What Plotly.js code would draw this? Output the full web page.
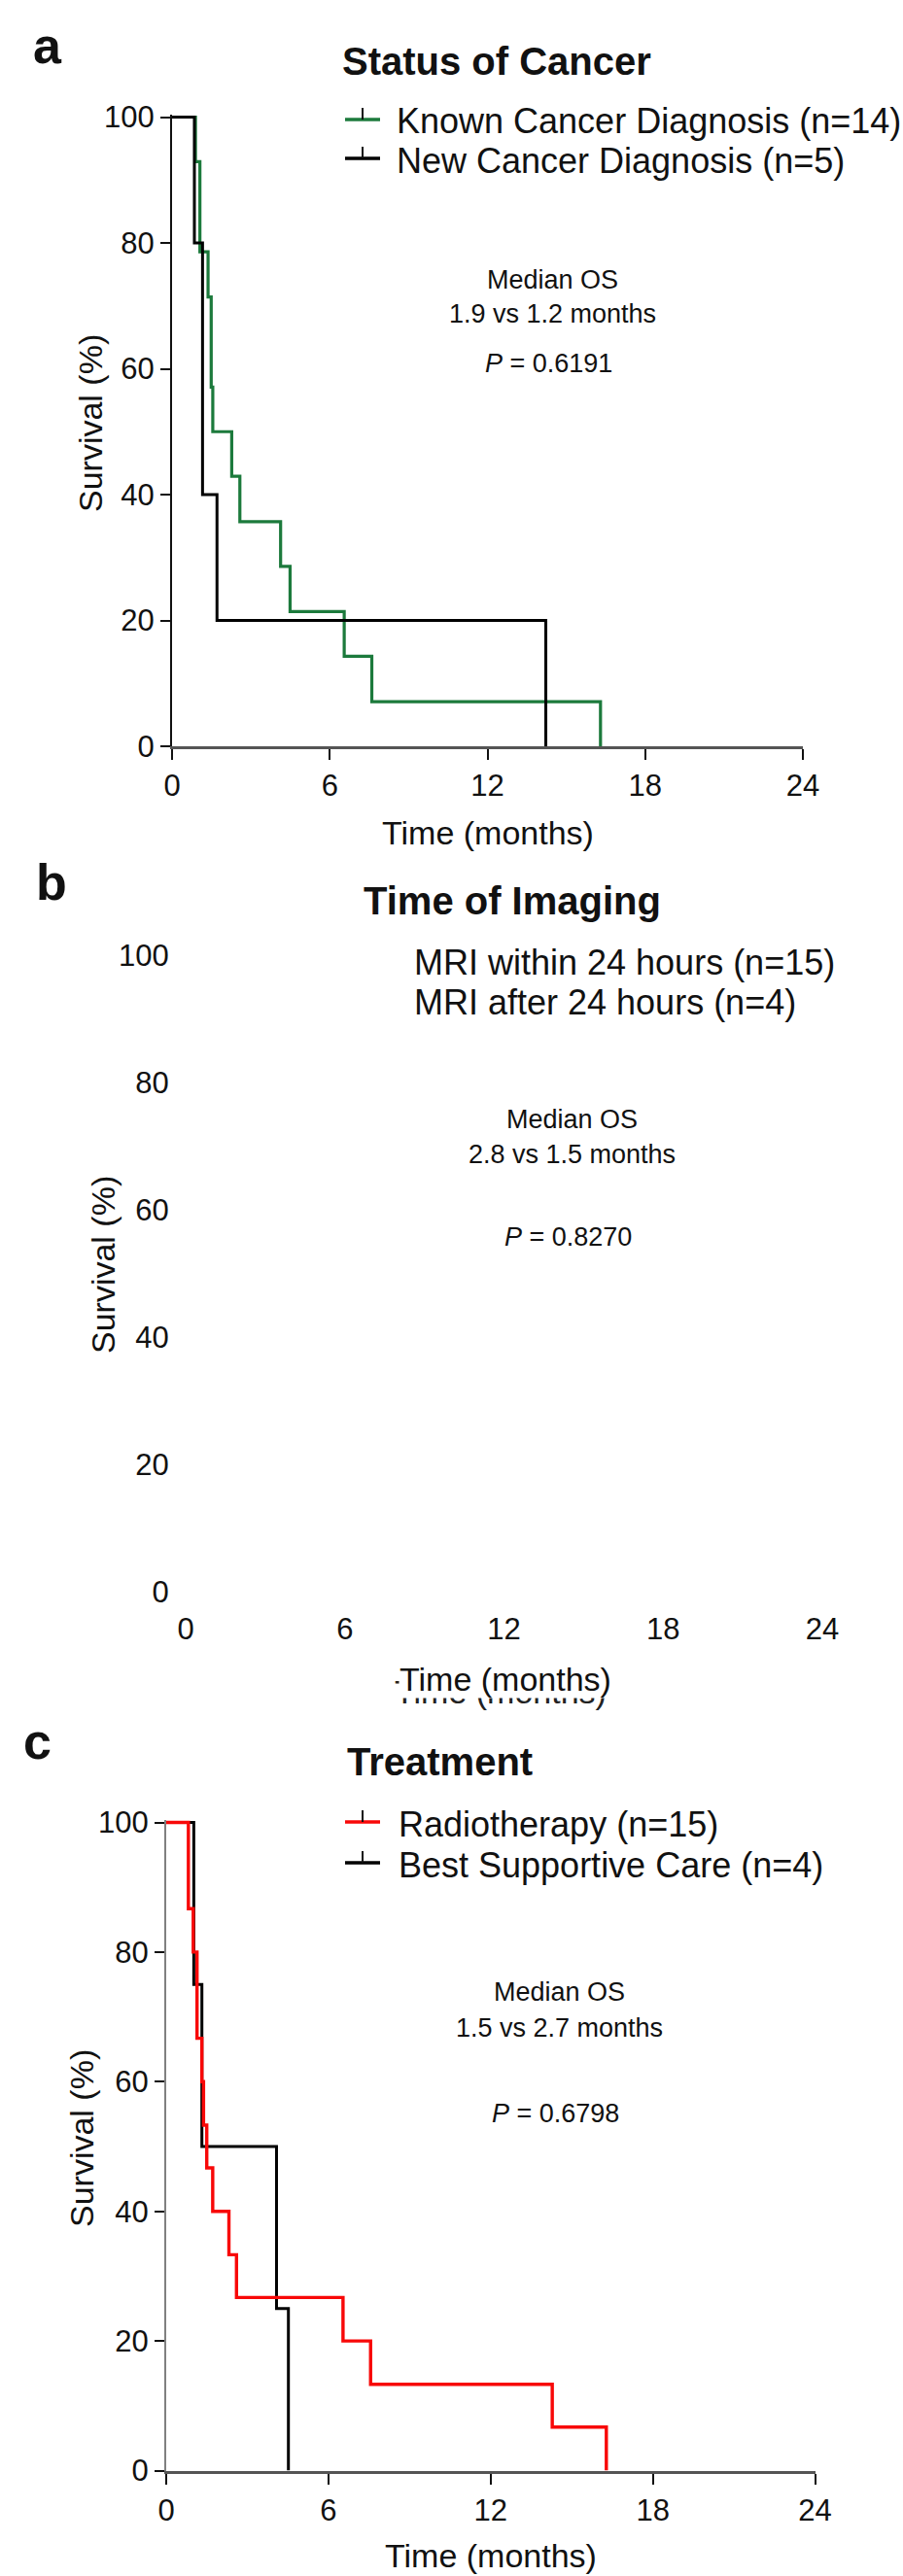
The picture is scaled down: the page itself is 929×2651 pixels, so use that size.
<!DOCTYPE html>
<html>
<head>
<meta charset="utf-8">
<script src="https://cdn.plot.ly/plotly-3.0.1.min.js"></script>
<style>html,body{margin:0;padding:0;background:#fff;}#chart{width:929px;height:2651px;}</style>
</head>
<body>
<div id="chart"></div>
<script>
// ---------- data ----------
const panelLetters = ["a", "b", "c"];
const panelTitles = ["Status of Cancer", "Time of Imaging", "Treatment"];
const xTickVals = [0, 6, 12, 18, 24];
const yTickVals = [0, 20, 40, 60, 80, 100];
const xTitle = "Time (months)";
const yTitle = "Survival (%)";

// Panel a: Status of Cancer (Kaplan-Meier steps: time in months, survival %)
const groupsA = ["Known Cancer Diagnosis (n=14)", "New Cancer Diagnosis (n=5)"];
const knownTime = [0, 0.89, 1.06, 1.37, 1.49, 1.55, 2.27, 2.58, 4.13, 4.49, 6.55, 7.6, 16.3];
const knownSurv = [100, 92.9, 78.6, 71.4, 57.1, 50.0, 42.9, 35.7, 28.6, 21.4, 14.3, 7.1, 0];
const newTime = [0, 0.85, 1.16, 1.71, 14.22];
const newSurv = [100, 80, 40, 20, 0];
const statsA = ["Median OS", "1.9 vs 1.2 months", "0.6191"];

// Panel b: Time of Imaging (curves not rendered in the source figure)
const groupsB = ["MRI within 24 hours (n=15)", "MRI after 24 hours (n=4)"];
const statsB = ["Median OS", "2.8 vs 1.5 months", "0.8270"];

// Panel c: Treatment
const groupsC = ["Radiotherapy (n=15)", "Best Supportive Care (n=4)"];
const rtTime = [0, 0.82, 1.0, 1.14, 1.32, 1.38, 1.5, 1.72, 2.32, 2.6, 6.54, 7.56, 14.28, 16.28];
const rtSurv = [100, 86.7, 80, 66.7, 60, 53.3, 46.7, 40, 33.3, 26.7, 20, 13.3, 6.7, 0];
const bscTime = [0, 1.02, 1.32, 4.08, 4.52];
const bscSurv = [100, 75, 50, 25, 0];
const statsC = ["Median OS", "1.5 vs 2.7 months", "0.6798"];

// ---------- layout helpers ----------
const W = 929, H = 2651;
const FONT = "Liberation Sans, Arial, Helvetica, sans-serif";
const TXT = "#111111";
const GREEN = "#1c7a3c", RED = "#f80808", BLACK = "#000000";
const px = x => x / W;
const py = y => 1 - y / H;
const YTOP = 100.4;

// pixel frames of each plot: x0,x24,y0,y100
const frames = [
  {x0: 177, x1: 826, y0: 768, y100: 120.5},
  {x0: 191, x1: 846, y0: 1638, y100: 983},
  {x0: 171, x1: 838.5, y0: 2542.5, y100: 1875.5}
];

function xDom(f) { return [px(f.x0), px(f.x1)]; }
function yDom(f) {
  const ppu = (f.y0 - f.y100) / 100;
  return [py(f.y0), py(f.y0 - YTOP * ppu)];
}

function xAxis(i, visible) {
  const f = frames[i];
  return {
    domain: xDom(f), range: [0, 24], anchor: i === 0 ? "y" : "y" + (i + 1),
    tickmode: "array", tickvals: xTickVals, ticktext: xTickVals.map(String),
    ticks: "outside", ticklen: 11, tickwidth: 2,
    tickcolor: visible ? "#111" : "rgba(0,0,0,0)",
    showline: visible, linecolor: "#555", linewidth: 3,
    showgrid: false, zeroline: false, fixedrange: true,
    tickfont: {family: FONT, size: 31, color: TXT}
  };
}
function yAxis(i, visible, lineColor) {
  const f = frames[i];
  return {
    domain: yDom(f), range: [0, YTOP], anchor: i === 0 ? "x" : "x" + (i + 1),
    tickmode: "array", tickvals: yTickVals, ticktext: yTickVals.map(String),
    ticks: "outside", ticklen: 10, tickwidth: 2,
    tickcolor: visible ? "#111" : "rgba(0,0,0,0)",
    showline: visible, linecolor: lineColor, linewidth: 2,
    showgrid: false, zeroline: false, fixedrange: true,
    tickfont: {family: FONT, size: 31, color: TXT}
  };
}

function km(x, y, color, width, xa, ya) {
  return {x: x, y: y, type: "scatter", mode: "lines", xaxis: xa, yaxis: ya,
    line: {shape: "hv", color: color, width: width}, hoverinfo: "skip", showlegend: false};
}

const traces = [
  km(knownTime, knownSurv, GREEN, 3.2, "x", "y"),
  km(newTime, newSurv, BLACK, 3, "x", "y"),
  // panel b: the source figure shows axes labels only, no curves
  {x: [null], y: [null], type: "scatter", mode: "lines", xaxis: "x2", yaxis: "y2",
   hoverinfo: "skip", showlegend: false},
  km(bscTime, bscSurv, BLACK, 3, "x3", "y3"),
  km(rtTime, rtSurv, RED, 3.4, "x3", "y3")
];

const ann = [];
function txt(x, y, text, size, opts) {
  ann.push(Object.assign({
    xref: "paper", yref: "paper", x: px(x), y: py(y), text: text, showarrow: false,
    xanchor: "center", yanchor: "middle", borderpad: 0,
    font: {family: FONT, size: size, color: TXT}
  }, opts || {}));
}

// panel letters & titles
const letterPos = [[49, 47], [53, 908], [38, 1792]];
const titlePos = [[511, 63], [527, 927], [452, 1813]];
for (let i = 0; i < 3; i++) {
  txt(letterPos[i][0], letterPos[i][1], "<b>" + panelLetters[i] + "</b>", 52);
  txt(titlePos[i][0], titlePos[i][1], "<b>" + panelTitles[i] + "</b>", 40);
}

// legends
const legA = [[groupsA[0], 125, GREEN], [groupsA[1], 165, BLACK]];
const legB = [[groupsB[0], 990, null], [groupsB[1], 1031, null]];
const legC = [[groupsC[0], 1877, RED], [groupsC[1], 1919, BLACK]];
const shapes = [];
function legend(items, textX) {
  items.forEach(it => {
    txt(textX, it[1], it[0], 36, {xanchor: "left"});
    if (it[2]) {
      const ly = it[1] - 2;
      shapes.push({type: "line", xref: "paper", yref: "paper", x0: px(355), x1: px(391),
        y0: py(ly), y1: py(ly), line: {color: it[2], width: 3.5}});
      shapes.push({type: "line", xref: "paper", yref: "paper", x0: px(373), x1: px(373),
        y0: py(ly), y1: py(ly - 12), line: {color: "#111", width: 2}});
    }
  });
}
legend(legA, 407);
legend(legB, 425);
legend(legC, 409);

// median OS / P-value blocks
function stats(s, cx, ys) {
  txt(cx, ys[0], s[0], 27);
  txt(cx, ys[1], s[1], 27);
  txt(cx - 4, ys[2], "<i>P</i> = " + s[2], 27);
}
stats(statsA, 568, [288, 323, 374]);
stats(statsB, 588, [1152, 1188, 1273]);
stats(statsC, 575, [2050, 2087, 2175]);

// axis titles
const yTitlePos = [[93, 436], [106, 1302], [84, 2201]];
for (let i = 0; i < 3; i++) {
  txt(yTitlePos[i][0], yTitlePos[i][1], yTitle, 34, {textangle: -90});
}
txt(502, 857, xTitle, 34);
// panel b: faint duplicate title partly hidden behind the main one
txt(515, 1741, xTitle, 34, {font: {family: FONT, size: 34, color: "#222"}});
txt(520, 1728, xTitle, 34, {bgcolor: "#ffffff"});
txt(505, 2630, xTitle, 34);

const layout = {
  width: W, height: H, margin: {l: 0, r: 0, t: 0, b: 0},
  paper_bgcolor: "#ffffff", plot_bgcolor: "rgba(0,0,0,0)", showlegend: false,
  xaxis: xAxis(0, true), yaxis: yAxis(0, true, "#111"),
  xaxis2: xAxis(1, false), yaxis2: yAxis(1, false, "#111"),
  xaxis3: xAxis(2, true), yaxis3: yAxis(2, true, "#808080"),
  annotations: ann, shapes: shapes
};

Plotly.newPlot("chart", traces, layout, {staticPlot: true, displayModeBar: false});
</script>
</body>
</html>
